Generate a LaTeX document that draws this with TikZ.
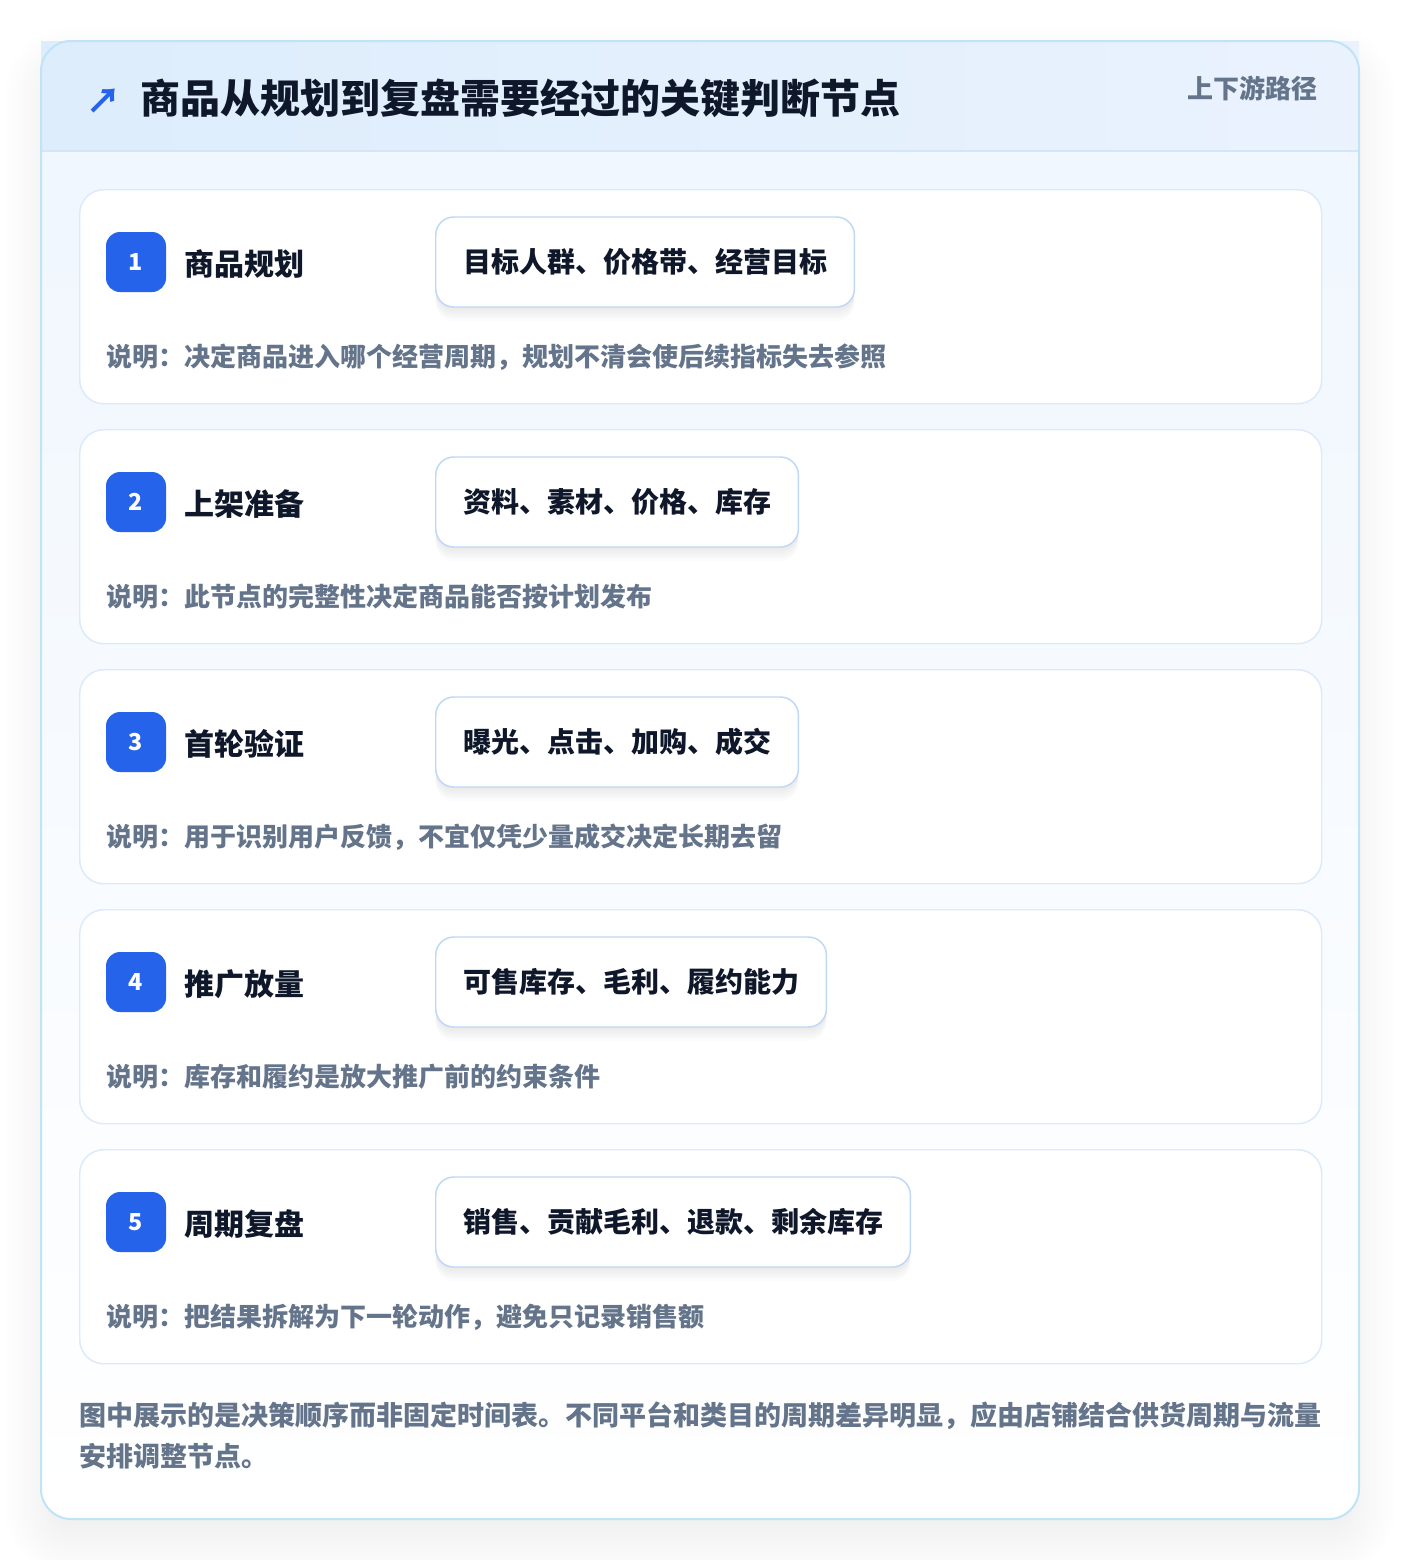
\documentclass[tikz,border=0pt]{standalone}
\usepackage{fontspec}
\setmainfont{Noto Sans CJK SC}
\definecolor{ink}{HTML}{0F172A}
\definecolor{muted}{HTML}{64748B}
\definecolor{brand}{HTML}{2563EB}
\definecolor{panelline}{HTML}{BFE3F7}
\definecolor{cardline}{HTML}{DCEAFA}
\definecolor{pillline}{HTML}{BFD8F5}
\definecolor{headL}{HTML}{DDEDFC}
\definecolor{headR}{HTML}{EAF2FE}
\definecolor{headrule}{HTML}{D3E5F7}
\definecolor{bodyT}{HTML}{EFF6FE}
\definecolor{bodyB}{HTML}{FFFFFF}
\definecolor{pagebg}{HTML}{FFFFFF}
\definecolor{shadowc}{HTML}{0F172A}
\tikzset{
  txt/.style={inner sep=0pt, anchor=west},
  titletext/.style={txt, text height=26.4pt, text depth=3.6pt, text=ink,
    font=\fontsize{30pt}{36pt}\selectfont\bfseries},
  subtext/.style={txt, anchor=east, text height=17.16pt, text depth=2.34pt, text=muted,
    font=\fontsize{19.5pt}{24pt}\selectfont\bfseries},
  icontext/.style={txt, text height=22.9pt, text depth=3.1pt, text=brand,
    font=\fontsize{26pt}{30pt}\selectfont\bfseries},
  card/.style={draw=cardline, line width=1.1pt, rounded corners=18pt, fill=white,
    anchor=north west, minimum width=931.5pt, minimum height=160.5pt, inner sep=0pt},
  badge/.style={fill=brand, rounded corners=10.5pt, minimum size=45pt, inner sep=0pt,
    text=white, font=\fontsize{17.5pt}{20pt}\selectfont\bfseries},
  steplabel/.style={txt, text height=19.8pt, text depth=2.7pt, text=ink,
    font=\fontsize{22.5pt}{27pt}\selectfont\bfseries},
  pshadow/.style={preaction={fill=shadowc, fill opacity=0.011, draw=none, transform canvas={yshift=-#1}}},
  pill/.style={draw=pillline, line width=1.1pt, rounded corners=13.5pt, fill=white,
    anchor=west, minimum height=67.5pt, inner xsep=20.5pt, inner ysep=0pt,
    text height=18.48pt, text depth=2.52pt, text=ink,
    font=\fontsize{21pt}{25pt}\selectfont\bfseries,
    pshadow=1.5pt, pshadow=3pt, pshadow=4.5pt, pshadow=6pt, pshadow=7.5pt, pshadow=9pt, pshadow=10.5pt},
  desctext/.style={txt, text height=17.16pt, text depth=2.34pt, text=muted,
    font=\fontsize{19.5pt}{24pt}\selectfont\bfseries},
  foottext/.style={inner sep=0pt, anchor=base west, text=muted, align=left,
    text width=940pt, font=\fontsize{20.25pt}{30.75pt}\selectfont\bfseries},
}
\begin{document}
\begin{tikzpicture}[x=0.75pt,y=-0.75pt]
\useasboundingbox (0,0) rectangle (1400,1560);
\fill[pagebg] (0,0) rectangle (1400,1560);
% soft panel shadow (stacked layers)
\foreach \k in {0,...,19}{
  \pgfmathsetmacro{\e}{-40+4*\k}
  \pgfmathsetmacro{\r}{max(30+\e,4)*0.75}
  \fill[shadowc, fill opacity=0.0055, rounded corners=\r pt]
    (41-\e,41+22-\e) rectangle (1359+\e,1519+22+\e);
}
% panel
\shade[top color=bodyT, bottom color=bodyB, rounded corners=22.5pt] (41,41) rectangle (1359,1519);
\shade[left color=headL, right color=headR] (41,41) rectangle (1359,151);
\draw[headrule, line width=1.1pt] (41,151) -- (1359,151);
\draw[panelline, line width=1.5pt, rounded corners=22.5pt] (41,41) rectangle (1359,1519);
% header
\node[icontext] (icon) at (86,100) {↗};
\node[titletext] (title) at (140,98) {商品从规划到复盘需要经过的关键判断节点};
\node[subtext] (sub) at (1318,89) {上下游路径};
% cards
\foreach \i/\lab/\pil/\des in {
  1/商品规划/目标人群、价格带、经营目标/说明：决定商品进入哪个经营周期，规划不清会使后续指标失去参照,
  2/上架准备/资料、素材、价格、库存/说明：此节点的完整性决定商品能否按计划发布,
  3/首轮验证/曝光、点击、加购、成交/说明：用于识别用户反馈，不宜仅凭少量成交决定长期去留,
  4/推广放量/可售库存、毛利、履约能力/说明：库存和履约是放大推广前的约束条件,
  5/周期复盘/销售、贡献毛利、退款、剩余库存/说明：把结果拆解为下一轮动作，避免只记录销售额}{
  \pgfmathsetmacro{\top}{189+240*(\i-1)}
  \node[card] (card\i) at (79,\top) {};
  \node[badge] (badge\i) at (136,\top+73) {\i};
  \node[steplabel] (label\i) at (184,\top+75) {\lab};
  \node[pill] (pill\i) at (435,\top+73) {\pil};
  \node[desctext] (desc\i) at (106,\top+168) {\des};
}
% footer
\node[foottext] (foot) at (79,1425.5) {图中展示的是决策顺序而非固定时间表。不同平台和类目的周期差异明显，应由店铺结合供货周期与流量\\安排调整节点。};
\end{tikzpicture}
\end{document}
